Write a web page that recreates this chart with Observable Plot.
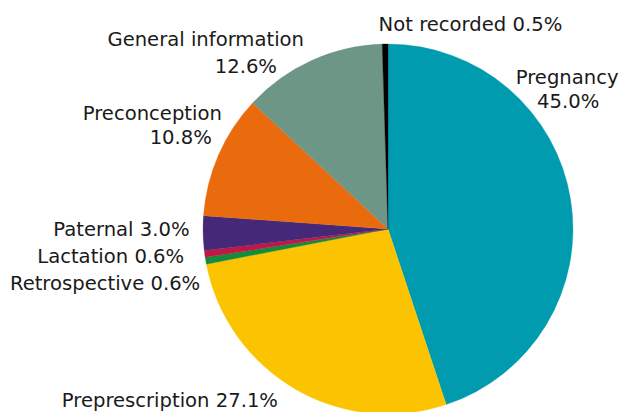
<!DOCTYPE html>
<html>
<head>
<meta charset="utf-8">
<script src="https://cdn.jsdelivr.net/npm/d3@7"></script>
<script src="https://cdn.jsdelivr.net/npm/@observablehq/plot@0.6"></script>
<style>
  html, body { margin: 0; padding: 0; background: #fff; }
  #chart svg { display: block; }
</style>
</head>
<body>
<div id="chart"></div>
<script>
// ---- data ----
const categories = ["Pregnancy", "Preprescription", "Retrospective", "Lactation", "Paternal", "Preconception", "General information", "Not recorded"];
const shares = [45.0, 27.1, 0.6, 0.6, 3.0, 10.8, 12.6, 0.5];
const pctLabels = ["45.0%", "27.1%", "0.6%", "0.6%", "3.0%", "10.8%", "12.6%", "0.5%"];

// ---- styles / layout ----
const colors = ["#009BAE", "#FCC400", "#148C3C", "#BE1946", "#462878", "#EA6A0E", "#6E9687", "#000000"];
const W = 622, H = 412;
const cx = 388, cy = 229, R = 185;
// label layout: offsets in px from each slice's mid-angle rim point
const labelLayout = [
  {anchor: "middle", twoLine: true,  dx: -4,  dy: -122, dx2: -3,  dy2: -98},
  {anchor: "end",    twoLine: false, dx: -17, dy: 12},
  {anchor: "end",    twoLine: false, dx: -6,  dy: 22.5},
  {anchor: "end",    twoLine: false, dx: -21, dy: 2},
  {anchor: "end",    twoLine: false, dx: -14, dy: -4},
  {anchor: "end",    twoLine: true,  dx: 3,   dy: -42, dx2: -7,  dy2: -18},
  {anchor: "end",    twoLine: true,  dx: -8,  dy: -21, dx2: -35, dy2: 5.5},
  {anchor: "start",  twoLine: false, dx: -7,  dy: -20}
];

const data = categories.map((c, i) => ({category: c, value: shares[i], pct: pctLabels[i], color: colors[i]}));
const arcs = d3.pie().sort(null).value(d => d.value)(data);

const lines = [];
arcs.forEach((a, i) => {
  const m = (a.startAngle + a.endAngle) / 2;
  const L = labelLayout[i];
  const ux = Math.sin(m), uy = Math.cos(m);
  if (L.twoLine) {
    lines.push({text: data[i].category, anchor: L.anchor, x: ux + L.dx / R, y: uy - L.dy / R});
    lines.push({text: data[i].pct, anchor: L.anchor, x: ux + L.dx2 / R, y: uy - L.dy2 / R});
  } else {
    lines.push({text: data[i].category + " " + data[i].pct, anchor: L.anchor, x: ux + L.dx / R, y: uy - L.dy / R});
  }
});

function pieMark(index, scales) {
  const x0 = scales.x(0), y0 = scales.y(0);
  const r = scales.x(1) - scales.x(0);
  const arcGen = d3.arc().innerRadius(0).outerRadius(r);
  const g = d3.create("svg:g").attr("transform", `translate(${x0},${y0})`);
  g.selectAll("path").data(arcs).join("path")
    .attr("d", arcGen)
    .attr("fill", d => d.data.color)
    .attr("stroke", d => d.data.color)
    .attr("stroke-width", 0.3);
  return g.node();
}

const textOpts = {fontSize: 19.6, fill: "#1a1a1a", fontFamily: "'DejaVu Sans', sans-serif"};
const chart = Plot.plot({
  width: W,
  height: H,
  margin: 0,
  style: {background: "#fff", fontFamily: "'DejaVu Sans', sans-serif"},
  x: {domain: [-1, 1], range: [cx - R, cx + R], axis: null},
  y: {domain: [-1, 1], range: [cy + R, cy - R], axis: null},
  marks: [
    pieMark,
    ...["start", "middle", "end"].map(anc =>
      Plot.text(lines.filter(d => d.anchor === anc), {x: "x", y: "y", text: "text", textAnchor: anc, ...textOpts})
    )
  ]
});
document.getElementById("chart").appendChild(chart);
</script>
</body>
</html>
